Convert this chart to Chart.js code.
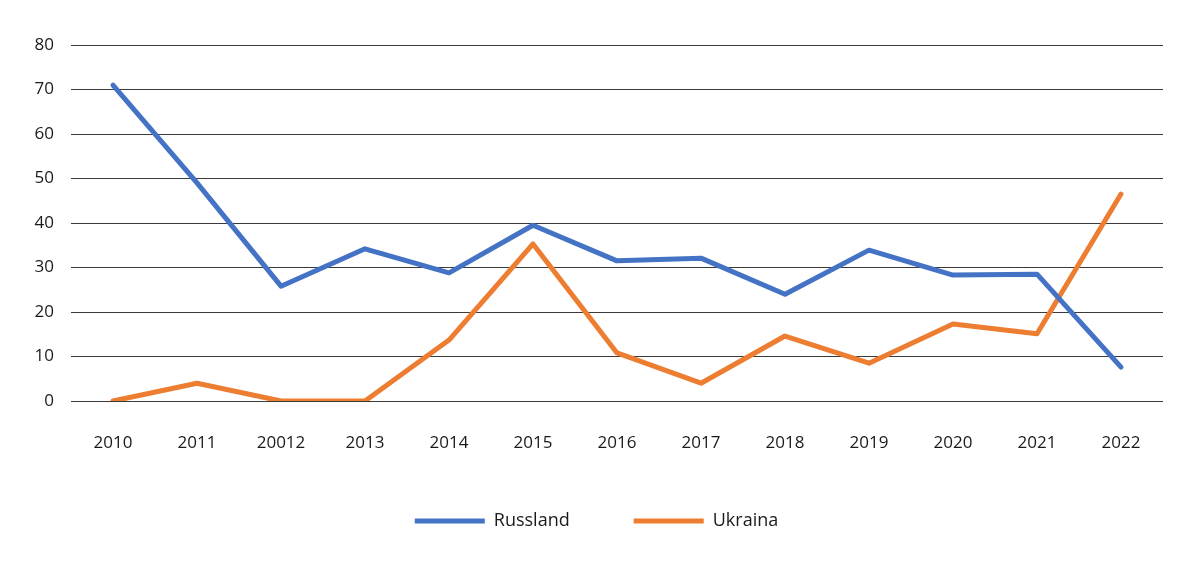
<!DOCTYPE html>
<html>
<head>
<meta charset="utf-8">
<style>
  html, body { margin: 0; padding: 0; background: #fff; }
  #wrap { width: 1198px; height: 568px; }
</style>
<script src="https://cdn.jsdelivr.net/npm/chart.js@4/dist/chart.umd.min.js"></script>
</head>
<body>
<div id="wrap"><canvas id="chart"></canvas></div>
<script>
// Data
var years = ['2010', '2011', '20012', '2013', '2014', '2015', '2016', '2017', '2018', '2019', '2020', '2021', '2022'];
var russland = [71.0, 49.0, 25.8, 34.2, 28.8, 39.5, 31.5, 32.1, 24.0, 33.9, 28.3, 28.5, 7.6];
var ukraina = [0, 4.0, 0, 0, 13.7, 35.3, 10.8, 4.0, 14.6, 8.5, 17.3, 15.1, 46.5];

var blue = '#4472c4';
var orange = '#ed7d31';
var textColor = '#1a1a1a';
var font = { family: '"Open Sans", sans-serif', size: 17 };

Chart.defaults.font = font;
Chart.defaults.color = textColor;

var ctx = document.getElementById('chart').getContext('2d');
var chart = new Chart(ctx, {
  type: 'line',
  data: {
    labels: years,
    datasets: [
      {
        label: 'Russland',
        data: russland,
        borderColor: blue,
        backgroundColor: blue,
        borderWidth: 5,
        pointRadius: 0,
        tension: 0,
        borderCapStyle: 'round',
        borderJoinStyle: 'round'
      },
      {
        label: 'Ukraina',
        data: ukraina,
        borderColor: orange,
        backgroundColor: orange,
        borderWidth: 5,
        pointRadius: 0,
        tension: 0,
        borderCapStyle: 'round',
        borderJoinStyle: 'round'
      }
    ]
  },
  options: {
    responsive: true,
    maintainAspectRatio: false,
    animation: false,
    layout: { padding: { top: 45, right: 35, bottom: 28, left: 30 } },
    plugins: {
      tooltip: { enabled: false },
      legend: {
        position: 'bottom',
        labels: {
          boxWidth: 70,
          boxHeight: 5,
          padding: 64,
          useBorderRadius: true,
          borderRadius: 2.5,
          font: { family: '"Open Sans", sans-serif', size: 18 },
          generateLabels: function(c) {
            return c.data.datasets.map(function(ds, i) {
              return {
                text: ds.label,
                fillStyle: ds.borderColor,
                strokeStyle: ds.borderColor,
                lineWidth: 0,
                fontColor: textColor,
                datasetIndex: i
              };
            });
          }
        }
      }
    },
    scales: {
      x: {
        offset: true,
        grid: { display: false, drawTicks: false },
        border: { display: false },
        ticks: { padding: 32, maxRotation: 0, autoSkip: false },
        afterFit: function(s) { s.height = 47; }
      },
      y: {
        min: 0,
        max: 80,
        ticks: { stepSize: 10, padding: 17 },
        grid: { color: '#3a3a3a', lineWidth: 1, drawTicks: false },
        border: { display: false },
        afterFit: function(s) { s.width = 41; }
      }
    }
  }
});
</script>
</body>
</html>
